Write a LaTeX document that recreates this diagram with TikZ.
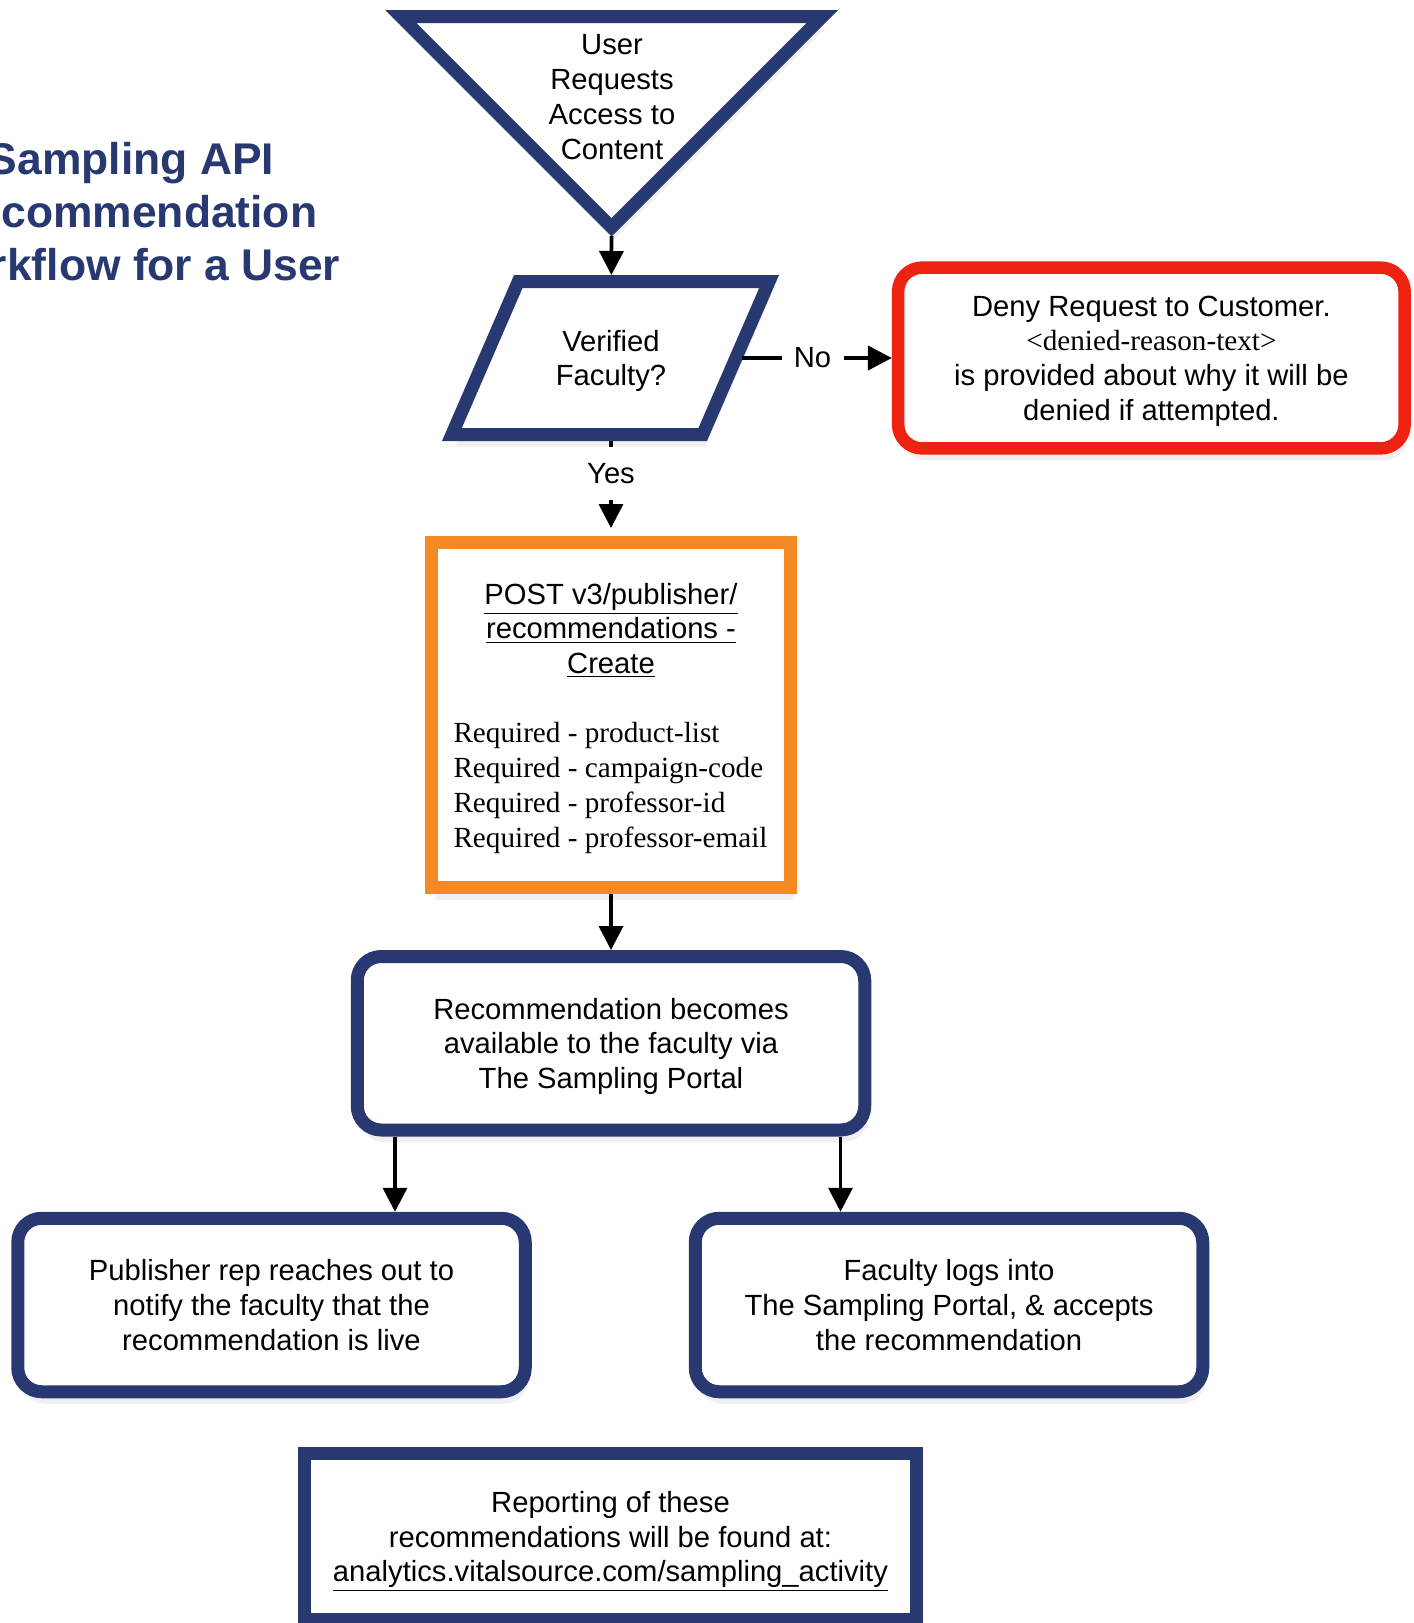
\documentclass[tikz,border=0pt]{standalone}
\usepackage{fontspec}
\setmainfont{Liberation Serif}
\setsansfont{Liberation Sans}
\usepackage{tikz}
\usetikzlibrary{arrows.meta,positioning,shadows}
\definecolor{navy}{RGB}{40,56,112}
\definecolor{denyred}{RGB}{238,34,17}
\definecolor{postorange}{RGB}{243,138,36}
\newcommand*{\reqline}[1]{\makebox[157.5pt][l]{\rmfamily Required - #1}}

\begin{document}
\begin{tikzpicture}[x=0.5pt, y=-0.5pt, >={Triangle[length=12pt,width=12pt]},
  font=\sffamily\fontsize{14.6pt}{17.35pt}\selectfont]
\tikzstyle{softshadow}=[drop shadow={shadow xshift=1.5pt, shadow yshift=-6pt, opacity=0.12}]
\tikzstyle{flowline}=[->, line width=1.8pt]
\tikzstyle{tag}=[inner sep=0pt, outer sep=0pt]
\tikzstyle{lines}=[align=center, text depth=-0.8pt]
\tikzstyle{navybox}=[draw=navy, fill=white, line width=6.5pt, rounded corners=12pt, lines,
  minimum width=253.75pt, minimum height=86.75pt, softshadow]
\useasboundingbox (0,0) rectangle (1414,1623);

% title, cut off at the left edge
\node[font=\sffamily\bfseries\fontsize{22.2pt}{26.5pt}\selectfont, text=navy, align=center]
  (title) at (131,212) {Sampling API\\Recommendation\\Workflow for a User};

% start
\draw[draw=navy, fill=white, line width=6.5pt, line join=miter, softshadow]
  (400.7,16.5) -- (822.3,16.5) -- (611.5,227.3) -- cycle;
\node[lines] (request) at (612,97) {User\\Requests\\Access to\\Content};
\coordinate (reqtip) at (611.5,236);

% decision
\draw[draw=navy, fill=white, line width=6.5pt, line join=miter, softshadow]
  (518.3,281.5) -- (769.1,281.5) -- (702.7,434.5) -- (451.9,434.5) -- cycle;
\node[tag, lines, minimum width=131pt, minimum height=83pt] (verified) at (611,358) {Verified\\Faculty?};
\node[tag, minimum width=31pt] (no) [right=19.75pt of verified] {No};
\node[tag, minimum height=26.5pt] (yes) [below=3pt of verified] {Yes};

\node[draw=denyred, fill=white, line width=6.25pt, rounded corners=12pt, lines,
  minimum width=253.25pt, minimum height=90.4pt, softshadow] (deny) [right=24.2pt of no]
  {Deny Request to Customer.\\{\rmfamily <denied-reason-text>}\\is provided about why it will be\\denied if attempted.};

\node[draw=postorange, fill=white, line width=6.5pt, lines,
  minimum width=179.25pt, minimum height=172.5pt, softshadow] (post) [below=18pt of yes]
  {\underline{POST v3/publisher/}\\\underline{recommendations -}\\\underline{Create}\\[17.35pt]
   \reqline{product-list}\\\reqline{campaign-code}\\\reqline{professor-id}\\\reqline{professor-email}};

\node[navybox] (avail) [below=28pt of post] {Recommendation becomes\\available to the faculty via\\The Sampling Portal};
\node[navybox] (pub) at (271.5,1305) {Publisher rep reaches out to\\notify the faculty that the\\recommendation is live};
\node[navybox] (fac) at (949,1305) {Faculty logs into\\The Sampling Portal, \& accepts\\the recommendation};

\node[draw=navy, fill=white, line width=6.5pt, lines, minimum width=306pt, minimum height=83pt,
  softshadow] (report) at (610.5,1536.5)
  {Reporting of these\\recommendations will be found at:\\\underline{analytics.vitalsource.com/sampling\_activity}};

\path[flowline]
(reqtip)   edge                    (verified)
(verified) edge[-]                 (yes)
           edge[-]                 (no)
(yes)      edge[shorten >=4pt]     (post)
(no)       edge[line width=2pt]    (deny)
(post)     edge                    (avail)
([xshift=-108pt]avail.south)   edge ([xshift=61.75pt]pub.north)
([xshift=114.75pt]avail.south) edge ([xshift=-54.25pt]fac.north);
\end{tikzpicture}
\end{document}
